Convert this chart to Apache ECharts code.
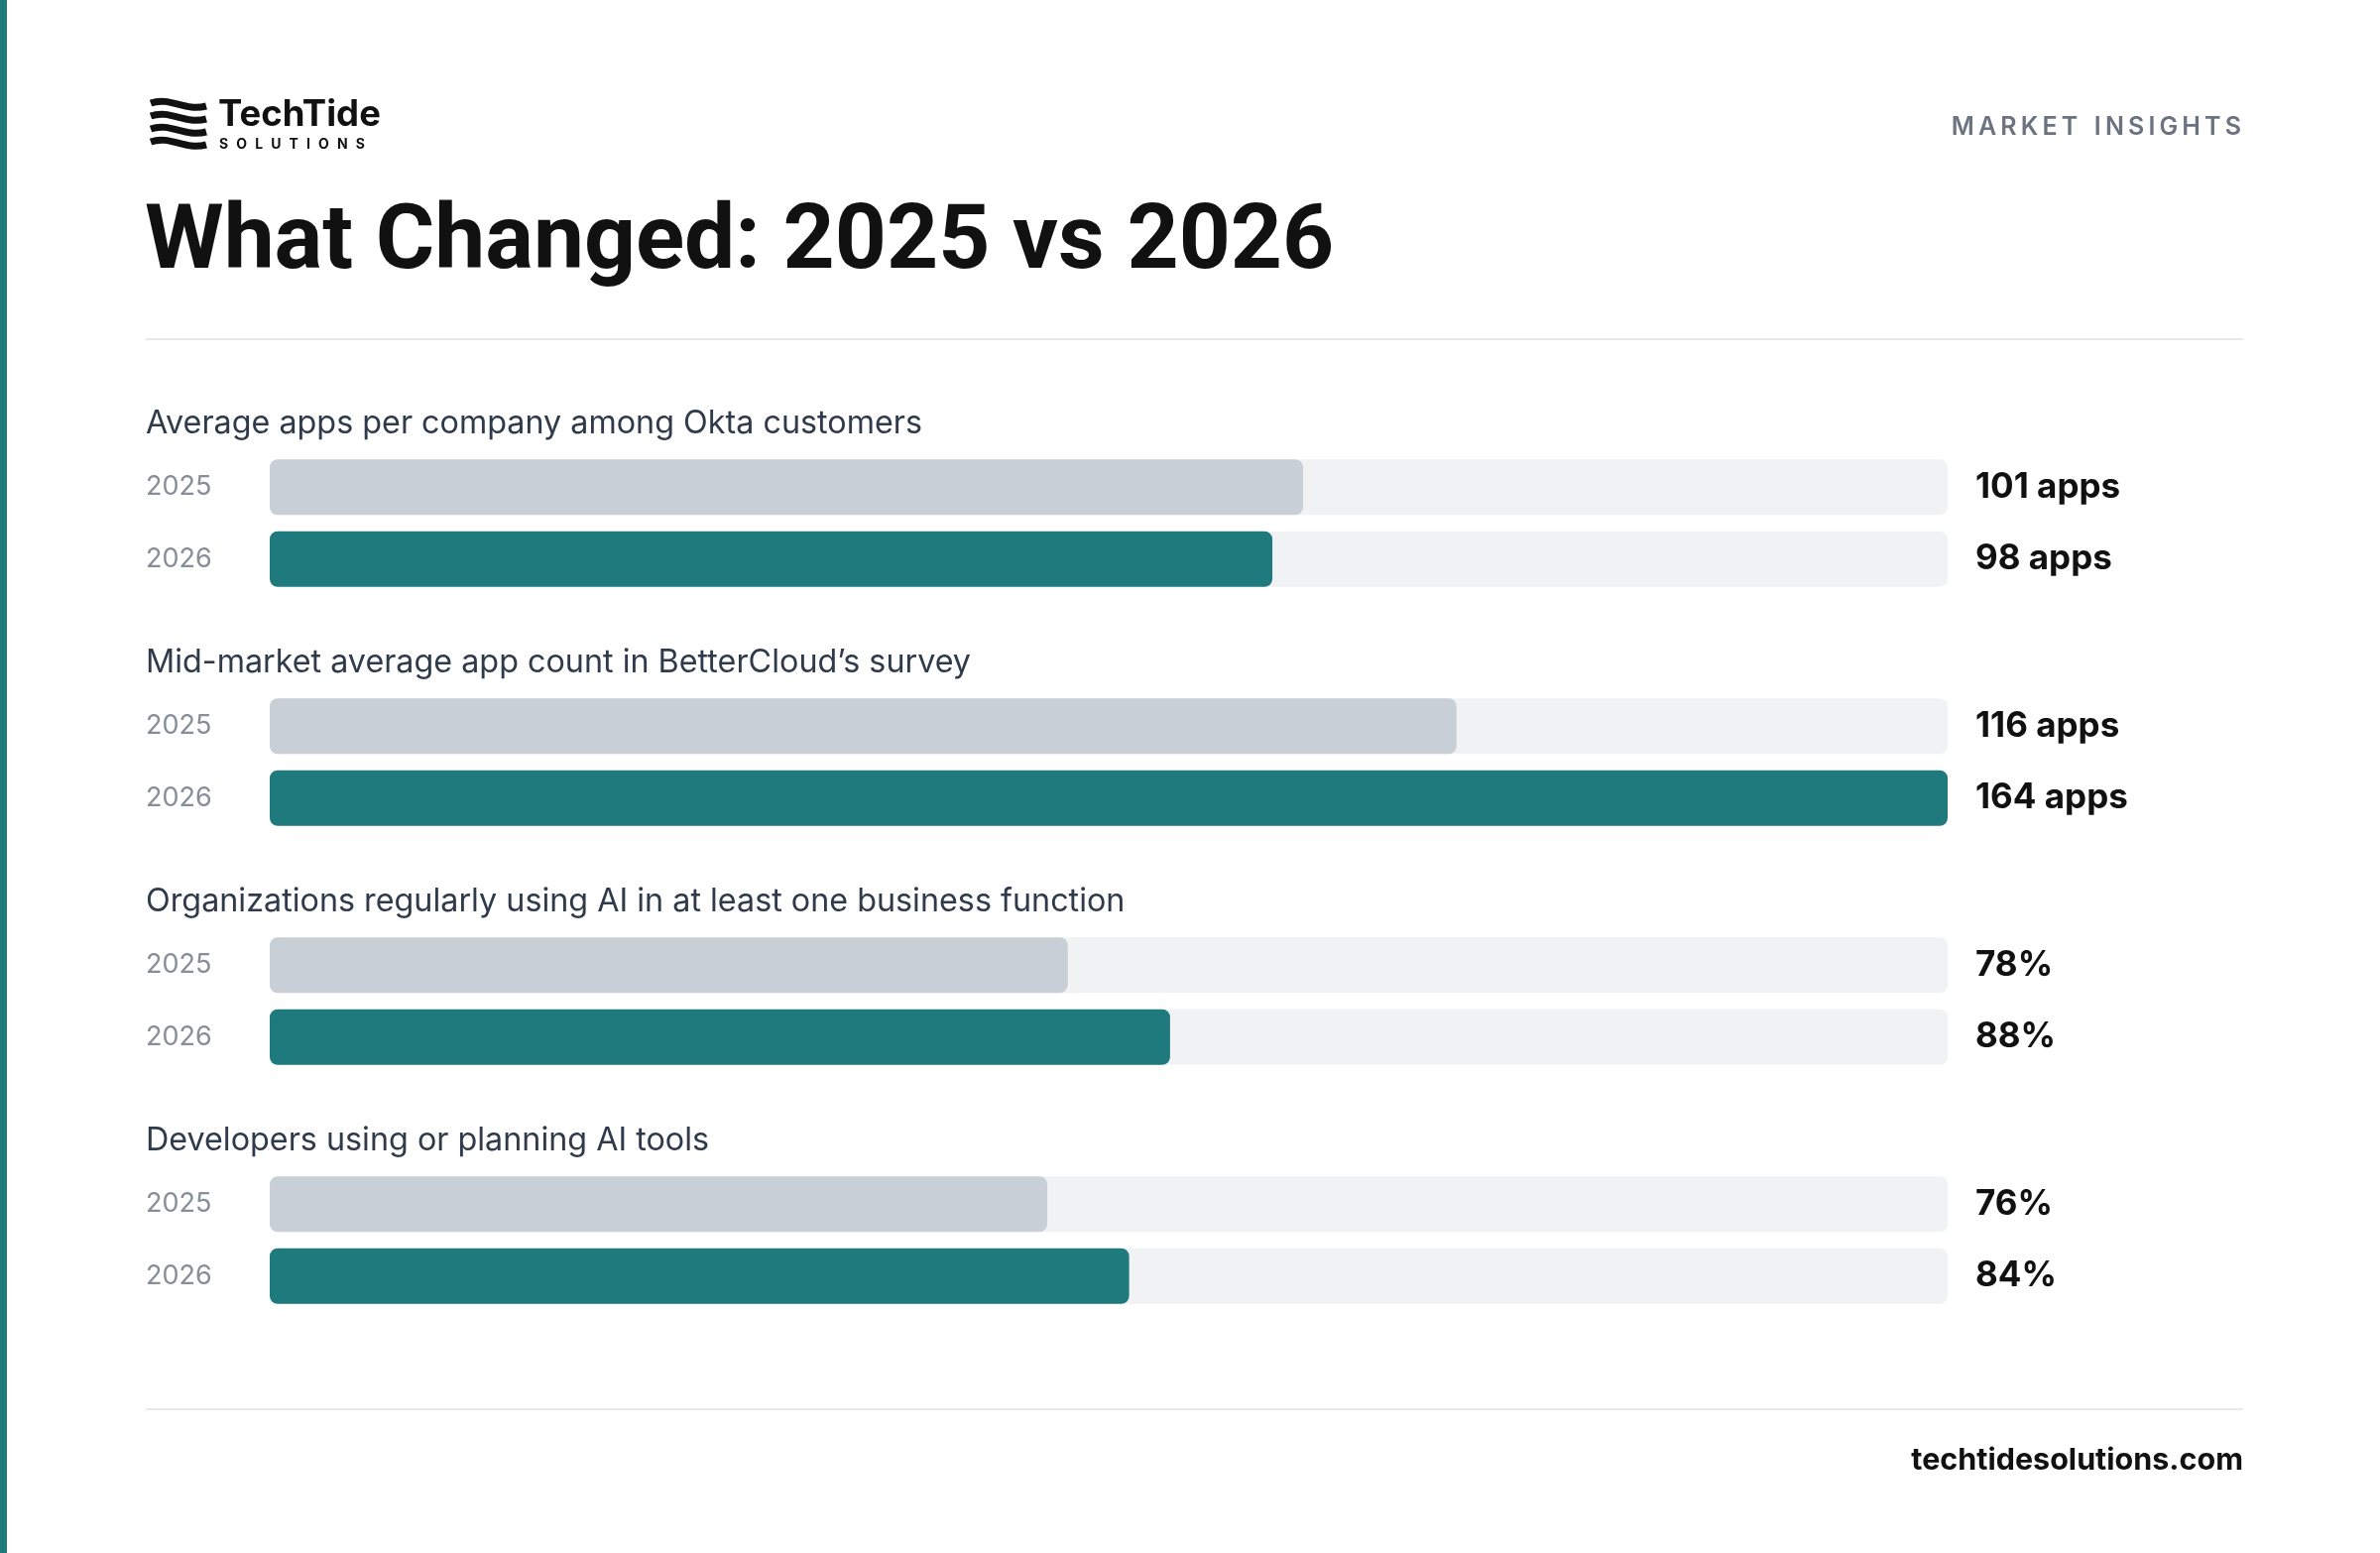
<!DOCTYPE html>
<html>
<head>
<meta charset="utf-8">
<script src="https://cdn.jsdelivr.net/npm/echarts@6/dist/echarts.min.js"></script>
<style>
html,body{margin:0;padding:0;background:#fff;}
#chart{width:2400px;height:1566px;}
</style>
</head>
<body>
<div id="chart"></div>
<script>
// ---- data ----
const groups = [
  'Average apps per company among Okta customers',
  'Mid-market average app count in BetterCloud\u2019s survey',
  'Organizations regularly using AI in at least one business function',
  'Developers using or planning AI tools'
];
const years = ['2025', '2026'];
const values2025 = [101, 116, 78, 76];
const values2026 = [98, 164, 88, 84];
const units = ['apps', 'apps', '%', '%'];
const axisMax = 164;

// ---- style ----
const FONT = 'Inter';
const TEAL = '#1f7a7d';
const GRAY = '#c8cfd6';
const TRACK = '#f1f2f4';
const groupTop0 = 455;
const groupStep = 241;
const groupTop = i => groupTop0 + groupStep * i;

function fmt(v, u) { return u === '%' ? v + '%' : v + ' ' + u; }

const chart = echarts.init(document.getElementById('chart'), null, {renderer: 'canvas'});

const grids = groups.map((g, i) => ({left: 272, right: 436, top: groupTop(i), height: 145}));
const xAxes = groups.map((g, i) => ({type: 'value', gridIndex: i, min: 0, max: axisMax, show: false}));
const leftY = groups.map((g, i) => ({
  type: 'category', gridIndex: i, inverse: true, data: years, position: 'left',
  axisLine: {show: false}, axisTick: {show: false}, splitLine: {show: false},
  axisLabel: {interval: 0, align: 'left', margin: 125, fontFamily: FONT, fontSize: 27, color: '#878e98', padding: [8, 0, 0, 0]}
}));
const rightY = groups.map((g, i) => ({
  type: 'category', gridIndex: i, inverse: true, position: 'right',
  data: [fmt(values2025[i], units[i]), fmt(values2026[i], units[i])],
  axisLine: {show: false}, axisTick: {show: false}, splitLine: {show: false},
  axisLabel: {interval: 0, align: 'left', margin: 28, fontFamily: FONT, fontSize: 35, fontWeight: 'bold', color: '#111111', padding: [10, 0, 0, 0]}
}));
const series = groups.map((g, i) => ({
  type: 'bar', xAxisIndex: i, yAxisIndex: i, barWidth: 56,
  showBackground: true,
  backgroundStyle: {color: TRACK, borderRadius: 8},
  itemStyle: {borderRadius: 8},
  data: [
    {value: values2025[i], itemStyle: {color: GRAY}},
    {value: values2026[i], itemStyle: {color: TEAL}}
  ]
}));

const graphic = [
  {type: 'rect', left: 0, top: 0, shape: {width: 7, height: 1566}, style: {fill: TEAL}},
  // logo waves
  ...[104, 117, 130, 143].map(y => ({
    type: 'bezierCurve',
    shape: {x1: 152, y1: y, cpx1: 172, cpy1: y - 7, cpx2: 186, cpy2: y + 9, x2: 208, y2: y + 3},
    style: {stroke: '#111111', lineWidth: 7, fill: null}
  })),
  {type: 'text', x: 220, y: 116, style: {text: 'TechTide', font: 'bold 36.5px ' + FONT, fill: '#111111', verticalAlign: 'middle'}},
  {type: 'text', x: 221, y: 146, style: {text: 'S\u2002\u200AO\u2002\u200AL\u2002\u200AU\u2002\u200AT\u2002\u200AI\u2002\u200AO\u2002\u200AN\u2002\u200AS', font: 'bold 14px ' + FONT, fill: '#111111', verticalAlign: 'middle'}},
  {type: 'text', x: 2260, y: 128, style: {text: 'M\u2009A\u2009R\u2009K\u2009E\u2009T\u2002\u2009I\u2009N\u2009S\u2009I\u2009G\u2009H\u2009T\u2009S', font: '600 25px ' + FONT, fill: '#6b7280', align: 'right', verticalAlign: 'middle'}},
  {type: 'text', x: 146, y: 247, style: {text: 'What Changed: 2025 vs 2026', font: 'bold 91px Roboto', fill: '#111111', verticalAlign: 'middle'}},
  {type: 'rect', shape: {x: 147, y: 341, width: 2115, height: 2}, style: {fill: '#e8e9ec'}},
  {type: 'rect', shape: {x: 147, y: 1420, width: 2115, height: 2}, style: {fill: '#e8e9ec'}},
  {type: 'text', x: 2262, y: 1473, style: {text: 'techtidesolutions.com', font: 'bold 30.5px ' + FONT, fill: '#111111', align: 'right', verticalAlign: 'middle'}},
  ...groups.map((g, i) => ({
    type: 'text', x: 147, y: groupTop(i) - 28,
    style: {text: g, font: '32.3px ' + FONT, fill: '#2f3a4b', verticalAlign: 'middle'}
  }))
];

chart.setOption({
  animation: false,
  backgroundColor: '#ffffff',
  grid: grids,
  xAxis: xAxes,
  yAxis: [...leftY, ...rightY],
  series: series,
  graphic: graphic
});
</script>
</body>
</html>
